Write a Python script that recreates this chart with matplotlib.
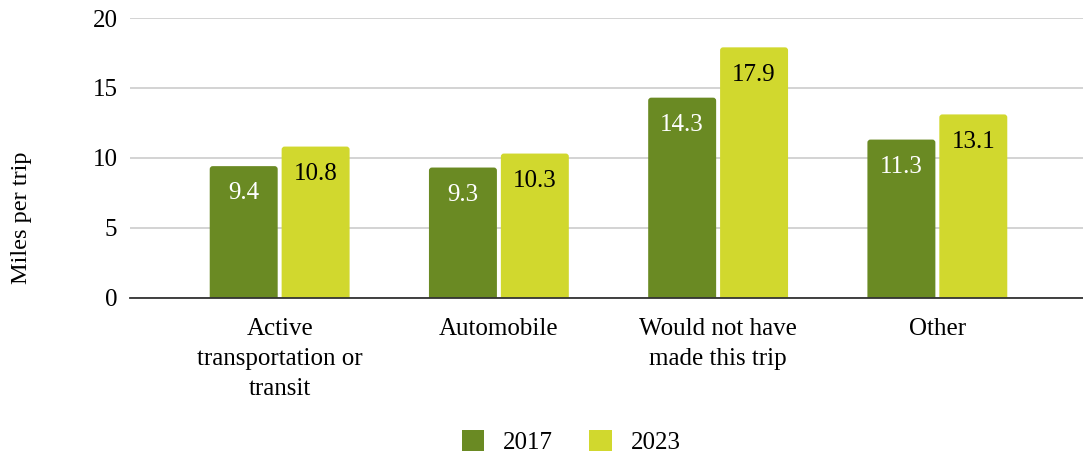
import matplotlib
matplotlib.use("Agg")
import matplotlib.pyplot as plt
from matplotlib.patches import Patch, FancyBboxPatch
import numpy as np

categories = ["Active\ntransportation or\ntransit", "Automobile",
              "Would not have\nmade this trip", "Other"]
years = ["2017", "2023"]
values_2017 = [9.4, 9.3, 14.3, 11.3]
values_2023 = [10.8, 10.3, 17.9, 13.1]
yticks = [0, 5, 10, 15, 20]

colors = ["#6a8a23", "#d1d82e"]
label_colors = ["white", "black"]

plt.rcParams["font.family"] = ["Liberation Serif", "DejaVu Serif"]

W, H = 1083, 457
fig = plt.figure(figsize=(W / 100, H / 100), dpi=100)
ax_h_px = 279.5
ax = fig.add_axes([130 / W, (H - 297.5) / H, (W - 130) / W, ax_h_px / H])

ymax = 20
xlim = (-0.5 - 40 / 219, 3.5 + 36 / 219)
ax.set_ylim(0, ymax)
ax.set_xlim(*xlim)

# pixel size of one data unit along each axis, for round corners
px_x = (W - 130) / (xlim[1] - xlim[0])
px_y = ax_h_px / ymax
radius_px = 3.0

x = np.arange(len(categories))
width = 0.31
offset = 0.164
for vals, off, col, lc in zip([values_2017, values_2023], [-offset, offset],
                              colors, label_colors):
    bars = ax.bar(x + off, vals, width=width, color=col, zorder=3)
    for b, v in zip(bars, vals):
        b.set_visible(False)
        sink = 0.5
        rounded = FancyBboxPatch(
            (b.get_x(), -sink), b.get_width(), v + sink,
            boxstyle=f"round,pad=0,rounding_size={radius_px / px_x}",
            mutation_aspect=px_x / px_y,
            facecolor=col, edgecolor="none", zorder=3)
        ax.add_patch(rounded)
        ax.text(b.get_x() + b.get_width() / 2, v - 1.95, f"{v}",
                ha="center", va="center", color=lc, fontsize=18, zorder=4)

ax.set_yticks(yticks)
ax.set_yticklabels([str(t) for t in yticks], fontsize=18)
ax.yaxis.grid(True, color="#cccccc", linewidth=1.2, zorder=0)
ax.tick_params(axis="y", length=0, pad=9)
ax.set_xticks(x)
ax.set_xticklabels(categories, fontsize=18, linespacing=1.45)
ax.tick_params(axis="x", length=0, pad=15)
for s in ["top", "right", "left"]:
    ax.spines[s].set_visible(False)
ax.spines["bottom"].set_color("#333333")
ax.spines["bottom"].set_linewidth(1.3)
ax.spines["bottom"].set_zorder(5)

fig.text(22 / W, 1 - 218 / H, "Miles per trip", rotation=90,
         ha="center", va="center", fontsize=17.5)

handles = [Patch(facecolor=c, edgecolor="none") for c in colors]
fig.legend(handles, years, loc="center", bbox_to_anchor=(571 / W, 1 - 442 / H),
           ncol=2, frameon=False, fontsize=18, handlelength=0.9,
           handleheight=0.9, handletextpad=0.75, columnspacing=1.45)

fig.savefig("out.png", dpi=100)
